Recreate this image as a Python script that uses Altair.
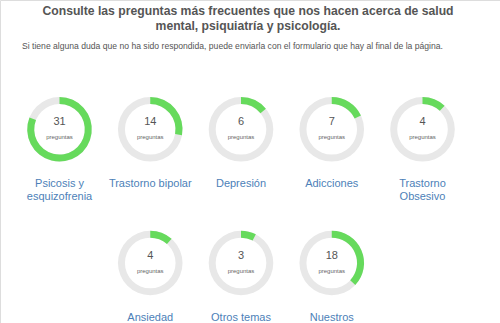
import math
import altair as alt
import pandas as pd

# ---- data ----
names = ["Psicosis y|esquizofrenia", "Trastorno bipolar", "Depresión", "Adicciones",
         "Trastorno|Obsesivo", "Ansiedad", "Otros temas", "Nuestros"]
counts = [31, 14, 6, 7, 4, 4, 3, 18]
shares = [0.81, 0.28, 0.14, 0.18, 0.12, 0.115, 0.076, 0.37]   # filled fraction of each ring
cols = [0, 1, 2, 3, 4, 1, 2, 3]
rows = [0, 0, 0, 0, 0, 1, 1, 1]

title_lines = ["Consulte las preguntas más frecuentes que nos hacen acerca de salud",
               "mental, psiquiatría y psicología."]
subtitle = "Si tiene alguna duda que no ha sido respondida, puede enviarla con el formulario que hay al final de la página."

df = pd.DataFrame({"name": names, "count": counts, "share": shares, "col": cols, "row": rows})
df["t0"] = 0.0
df["full"] = 2 * math.pi
df["t1"] = df["share"] * 2 * math.pi

FONT = "Liberation Sans"
GREEN = "#66da5c"
GRAY = "#e8e8e8"
BLUE = "#4d7fb8"

x = alt.X("col:Q", scale=alt.Scale(domain=[0, 4], range=[59.5, 422.5]), axis=None)
y = alt.Y("row:Q", scale=alt.Scale(domain=[0, 1], range=[129.3, 263]), axis=None)

base = alt.Chart(df).encode(x=x, y=y)

ring = base.mark_arc(radius=32.3, radius2=25.3, color=GRAY).encode(
    theta=alt.Theta("t0:Q", scale=None, stack=None), theta2="full:Q")
fill = base.mark_arc(radius=32.3, radius2=25.3, color=GREEN).encode(
    theta=alt.Theta("t0:Q", scale=None, stack=None), theta2="t1:Q")
num = base.mark_text(dy=-7, fontSize=11, color="#555555", font=FONT).encode(text="count:Q")
preg = base.mark_text(dy=7.5, fontSize=6, color="#666666", font=FONT).encode(text=alt.value("preguntas"))
lab = base.mark_text(dy=49, baseline="top", lineBreak="|", lineHeight=13, fontSize=11,
                     color=BLUE, font=FONT).encode(text="name:N")

hdr = pd.DataFrame({"t": ["|".join(title_lines)]})
title = alt.Chart(hdr).mark_text(baseline="top", lineBreak="|", lineHeight=15, fontSize=12.2,
                                 fontWeight="bold", color="#555555", font=FONT).encode(
    x=alt.value(248), y=alt.value(5), text="t:N")
sub = alt.Chart(pd.DataFrame({"t": [subtitle]})).mark_text(
    align="left", baseline="middle", fontSize=8.6, color="#555555", font=FONT).encode(
    x=alt.value(22), y=alt.value(46), text="t:N")

chart = alt.layer(ring, fill, num, preg, lab, title, sub).properties(
    width=500, height=323, padding=0, autosize=alt.AutoSizeParams(type="none")
).configure_view(stroke=None).configure(background="white")

chart.save("out.html", embed_options={"renderer": "svg", "actions": False})
